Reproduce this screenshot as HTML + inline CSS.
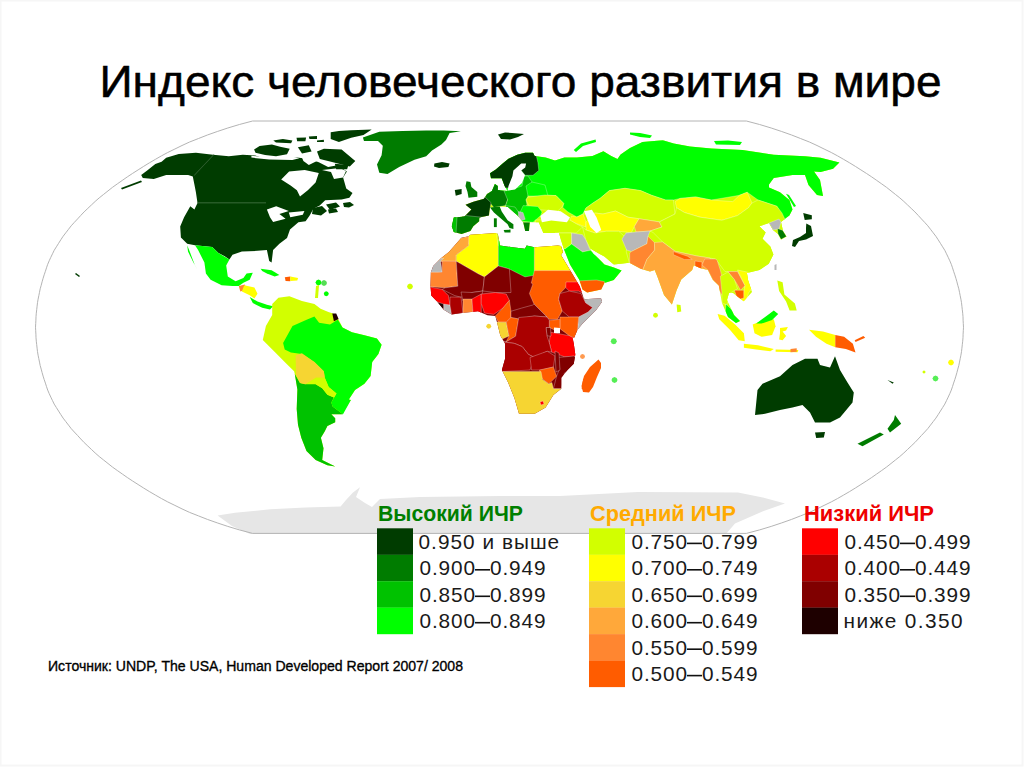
<!DOCTYPE html>
<html><head><meta charset="utf-8"><style>
html,body{margin:0;padding:0;background:#fff;}
body{width:1024px;height:767px;overflow:hidden;position:relative;}
svg{position:absolute;left:0;top:0;}
.title{font-family:"Liberation Sans",sans-serif;font-size:43.5px;fill:#000;stroke:#000;stroke-width:0.5px;}
.lt{font-family:"Liberation Sans",sans-serif;font-size:20.8px;fill:#1a1a1a;}
.lh{font-family:"Liberation Sans",sans-serif;font-size:22px;font-weight:bold;}
.src{font-family:"Liberation Sans",sans-serif;font-size:15.5px;fill:#000;stroke:#000;stroke-width:0.35px;}
</style></head><body>
<svg width="1024" height="767" viewBox="0 0 1024 767">
<rect x="0.5" y="0.5" width="1022" height="765" fill="none" stroke="#f6f6f6" stroke-width="2"/>
<text x="99.5" y="96.6" class="title" textLength="842" lengthAdjust="spacingAndGlyphs">Индекс человеческого развития в мире</text>
<g shape-rendering="auto">
<polygon fill="#003c00" points="141.2,175 147.5,170.3 155.3,164.1 161.6,161.7 166.2,157.8 178.8,153.9 195.9,152.8 213.1,154.7 228.8,156.2 242.8,154.7 255.3,155.5 265.6,159.1 281.2,159.1 296.9,157.5 309.4,159.1 318.8,162.2 328.1,166.9 337.5,165.3 346.9,171.6 343.1,177.5 346.25,188.4 352.5,193 349.4,197.8 341.6,199.4 325.2,200.2 319.7,205.6 313.4,208.75 309.5,215.8 305.6,221.25 298.4,222.3 290,229.6 287,238 279.4,243.8 273.1,250 271.6,262.5 269.2,260.9 266.9,250 257.5,250.8 241.9,251.6 232.5,254.7 229.4,259.4 224.7,256.2 218.4,253.1 212.2,246.9 195,245.3 187.2,243.8 180.9,237.5 180.2,226.6 184.1,217.2 190.3,206.2 194.4,209.4 197.5,203.1 195.9,192.2 194.4,184.4 192.8,176.6 188.1,175 177.2,175 166.2,175 153.8,178.9 142.8,178.1"/>
<polygon fill="#ffffff" points="281.2,179.4 289.1,171.6 304.7,170 318.8,173.1 315.6,182.5 307.8,190.3 300,196.6 296.9,190.3 290.6,185.6"/>
<polygon fill="#ffffff" points="266.9,209.4 276.2,206.2 288.8,210.9 279.4,214.1 285.6,218.8 273.1,221.9 270,217.2"/>
<polygon fill="#ffffff" points="288.8,212.5 304.4,210.9 302.8,214.8 290.3,217.2"/>
<polygon fill="#003c00" points="343,203 350,202 354,205 349,207.5 344,207"/>
<polygon fill="#003c00" points="326,204.5 336,202.5 340,206.5 330,210"/>
<polygon fill="#003c00" points="328,209.5 336,208.5 338,212 329,213.5"/>
<polygon fill="#003c00" points="313,208 322,206 327,211 321,215.5 312,214"/>
<polygon fill="#ffffff" points="322,170 331,172 334,179 343,177.5 346,171 340,168"/>
<polygon fill="#007c00" points="362.9,137.6 379.3,131.7 402.7,131.1 426.2,130.5 443.75,130.5 461,131.2 449.6,132.9 446,140 441.4,144.6 432,150.5 426.2,156.3 414.5,159.8 399.2,166.9 387.5,173.9 379.3,172.7 377,164.5 381.6,155.2 382.8,145.8 378,141 364,141"/>
<polygon fill="#003c00" points="434.4,163.4 442,162 449.6,163.4 448.4,166.9 439,168 434,166.5"/>
<polygon fill="#00ff00" points="195,245.3 212.2,246.9 218.4,253.1 229.4,259.4 226.2,265.6 227.8,276.6 235.6,281.2 243.4,278.1 246.6,273.4 252.8,272.7 249.7,279.7 243.4,282.8 238.8,285.9 232.5,285.9 221.6,285.2 210.6,279.7 205.9,273.4 204.4,262.5 198.1,250"/>
<polygon fill="#00ff00" points="187.2,245.3 190.3,253.1 195,265.6 197.3,269.5 193.4,262.5 188,251.6"/>
<polygon fill="#ff8630" points="238.8,285.9 245,284.4 245.8,289.8 240.3,291.4"/>
<polygon fill="#ffff00" points="244.2,285.2 254.4,287.5 257.5,293.8 254.4,298.4 249.7,295.3 241.9,291.4"/>
<polygon fill="#00ff00" points="249.7,296.9 257.5,301.6 266.9,304.7 273.1,306.2 270,309.4 262.2,307.8 252.8,303.1"/>
<polygon fill="#00ff00" points="260.6,268.8 271.6,270.3 279.4,275 274.7,276.6 266.9,273.4 262.2,271.1"/>
<polygon fill="#ff5c00" points="284.8,277.3 290.3,276.6 290.3,281.2 285.6,280.9"/>
<polygon fill="#ffff00" points="290.3,276.6 298.1,278.1 297.3,280.5 290.3,280.9"/>
<polygon fill="#d2ff00" points="272.2,304.1 278.4,297.8 289.4,296.2 301.9,300.9 314.4,304.1 320.6,308.8 328.4,311.9 333.1,313.4 337.8,318.1 342.5,327.5 351.9,332.2 364.4,335.3 376.9,338.4 381.6,344.7 378.4,354.1 372.2,361.9 370.6,375.9 364.4,383.8 355,390 348.8,399.4 350.9,400 341.7,414.3 331.3,414.3 335.2,418.3 335.2,422.2 327.4,426.1 324.8,431.3 320.9,437.8 323.5,448.3 322.2,460 335.2,466.5 327.4,465.2 315.7,460 306.5,450.9 301.3,437.8 298,424.8 296.7,409.1 297.4,389.6 294.8,373.9 294.1,371.2 286.2,363.4 275.3,352.5 262.8,340 265.9,325.9 272.2,315"/>
<polygon fill="#00c200" points="294.8,373.9 300,383 305.2,384.3 315.7,384.3 322.2,388.3 327.4,394.8 333.9,397.4 331.3,402.6 332.6,406.5 343,414.3 341.7,414.3 331.3,414.3 335.2,418.3 335.2,422.2 327.4,426.1 324.8,431.3 320.9,437.8 323.5,448.3 322.2,460 335.2,466.5 327.4,465.2 315.7,460 306.5,450.9 301.3,437.8 298,424.8 296.7,409.1 297.4,389.6"/>
<polygon fill="#00ff00" points="283.1,343.1 292.5,325.9 306.6,319.7 314.4,316.6 319.1,322.8 330,324.4 337.8,319.7 342.5,327.5 351.9,332.2 364.4,335.3 376.9,338.4 381.6,344.7 378.4,354.1 372.2,361.9 370.6,375.9 364.4,383.8 355,390 348.8,399.4 350.9,400 343,414.3 332.6,406.5 331.3,402.6 336.5,393.5 328.7,387 324.8,377.8 323.8,371.2 314.4,361.9 301.9,354.1 290.9,352.5 284.7,349.4"/>
<polygon fill="#f6d532" points="295.6,355.6 301.9,353.3 314.4,361.9 323.8,371.2 324.8,377.8 315.7,377.8 305.2,384.3 300,383 296.1,375.2"/>
<polygon fill="#d2ff00" points="315.7,377.8 324.8,377.8 328.7,387 336.5,393.5 333.9,397.4 327.4,394.8 322.2,388.3 315.7,384.3"/>
<polygon fill="#1e0000" points="332.3,313.4 336.2,313.4 338.6,318.9 333.9,321.2"/>
<polygon fill="#d2ff00" points="491,178.2 490,173.3 495.8,169.4 502.7,163.6 508.5,158.7 517.3,154.8 525.2,152.8 533,152.8 534.7,156 545.6,157.5 555,160.6 564.4,157.5 576.9,157.5 592.5,156 603.4,151.25 611.25,156 617.5,159 620.6,154.4 630,148 642.5,141.9 662.8,140.3 673.75,143.4 690,146.6 711.25,148.4 742.5,150 773.75,154.7 805,156.25 820.6,157.8 839.4,162.5 833.1,168.75 820.6,171.9 814,171.5 820,180 823,196 817,195 808.5,185 805,175 792.5,175 773.75,178 769,184.4 769,187.5 780,192.2 789.4,200 792.5,209.4 789.4,215.6 786,218 781,222 783,231 786.5,236.5 781,239.5 778,234 773,230 769,223 766,224 759.4,226.25 765.6,232.5 762.5,238.75 770.3,246.6 773.4,254.4 768.75,263.75 759.4,270 746.9,273.1 748,280 752,292 743.75,301.25 738,297 733,293 729,293 727,300 734,315 740,321 736,323 728,317 722,303 720,292 718.75,285.6 712.5,279.4 707.8,270 700,268 693.75,265.3 692.2,270 681.25,279.4 676.6,290.3 671.9,304.4 664,295 657.8,277.8 654.7,270 650,271.6 640.6,268.75 629.4,262.8 613.75,264.4 604.4,256.6 590.3,248.75 593.4,253.4 604.4,264.4 613.75,267.5 621.6,270.6 613.75,280 604.4,283.1 601.25,289.4 587.2,292.5 582.5,289.4 579.4,280 570,264.4 563.75,248.75 561,240 559,233 543.4,233 538.75,222.2 530,222.3 529,231 525.2,231 523.2,222.3 518,216 508,207 499.7,206.6 490,207.6 489,215.4 479.2,217.4 479.2,221.3 473.3,226.2 470.4,231 461.6,234 453.8,232 451.8,226.2 453.8,217.4 464.5,216.4 471.4,209.5 465.5,204.7 473.3,201.7 484,198.8 487,193.9 491.9,191 494.9,184 497.8,186 497.8,190 507.6,191 504.6,186 501.7,178.2 495.8,178.2"/>
<clipPath id="c1"><polygon fill="#000" points="491,178.2 490,173.3 495.8,169.4 502.7,163.6 508.5,158.7 517.3,154.8 525.2,152.8 533,152.8 534.7,156 545.6,157.5 555,160.6 564.4,157.5 576.9,157.5 592.5,156 603.4,151.25 611.25,156 617.5,159 620.6,154.4 630,148 642.5,141.9 662.8,140.3 673.75,143.4 690,146.6 711.25,148.4 742.5,150 773.75,154.7 805,156.25 820.6,157.8 839.4,162.5 833.1,168.75 820.6,171.9 814,171.5 820,180 823,196 817,195 808.5,185 805,175 792.5,175 773.75,178 769,184.4 769,187.5 780,192.2 789.4,200 792.5,209.4 789.4,215.6 786,218 781,222 783,231 786.5,236.5 781,239.5 778,234 773,230 769,223 766,224 759.4,226.25 765.6,232.5 762.5,238.75 770.3,246.6 773.4,254.4 768.75,263.75 759.4,270 746.9,273.1 748,280 752,292 743.75,301.25 738,297 733,293 729,293 727,300 734,315 740,321 736,323 728,317 722,303 720,292 718.75,285.6 712.5,279.4 707.8,270 700,268 693.75,265.3 692.2,270 681.25,279.4 676.6,290.3 671.9,304.4 664,295 657.8,277.8 654.7,270 650,271.6 640.6,268.75 629.4,262.8 613.75,264.4 604.4,256.6 590.3,248.75 593.4,253.4 604.4,264.4 613.75,267.5 621.6,270.6 613.75,280 604.4,283.1 601.25,289.4 587.2,292.5 582.5,289.4 579.4,280 570,264.4 563.75,248.75 561,240 559,233 543.4,233 538.75,222.2 530,222.3 529,231 525.2,231 523.2,222.3 518,216 508,207 499.7,206.6 490,207.6 489,215.4 479.2,217.4 479.2,221.3 473.3,226.2 470.4,231 461.6,234 453.8,232 451.8,226.2 453.8,217.4 464.5,216.4 471.4,209.5 465.5,204.7 473.3,201.7 484,198.8 487,193.9 491.9,191 494.9,184 497.8,186 497.8,190 507.6,191 504.6,186 501.7,178.2 495.8,178.2"/></clipPath><g clip-path="url(#c1)">
<polygon fill="#00ff00" points="480,140 860,140 860,230 790,230 776.9,206.25 758.1,200 747.2,192.2 739.4,195.3 711.25,200 695.6,196.9 680,198.4 673.4,200 665.6,200 651.6,195.3 640.6,190.6 625,188.3 609.4,190.6 600,198.4 593,203 586,208 583,214 576.9,217 568,212 562.8,207.5 563.75,203.4 556,195.6 540,195 527.8,195.6 520,192.5 480,192" stroke="#fff" stroke-opacity="0.4" stroke-width="0.7"/>
<polygon fill="#003c00" points="480,178.2 480,150 535,150 537.9,162.6 538.8,170.4 533,175.3 525.2,175.3 521.2,170.4 516,172 512,180 509,188 504.6,188 501.7,186 495.8,180" stroke="#fff" stroke-opacity="0.4" stroke-width="0.7"/>
<polygon fill="#007c00" points="480,196 487,186 496,180 500,190 507,191 507.6,199.8 505.6,205.6 493.9,207.6 489,201.7 484,198.8" stroke="#fff" stroke-opacity="0.4" stroke-width="0.7"/>
<polygon fill="#00c200" points="504,191 510,190 522,186 524,176 528,176 532,182 528,196 526.1,199.7 527,205 521,212 515,214 507,210 505.6,205.6 507.6,199.8" stroke="#fff" stroke-opacity="0.4" stroke-width="0.7"/>
<polygon fill="#00ff00" points="526,186 532,182 545,185 548,196 528,196" stroke="#fff" stroke-opacity="0.4" stroke-width="0.7"/>
<polygon fill="#d2ff00" points="527.8,197.2 545,195 556,195.6 563.75,203.4 562,207 557.5,211.25 540.3,209.7 529.4,206.6 526,200" stroke="#fff" stroke-opacity="0.4" stroke-width="0.7"/>
<polygon fill="#00ff00" points="523.2,205.6 530,206 537.9,206.6 542,212 540.8,215.4 533,222.3 521.2,221.3 519.5,213.5" stroke="#fff" stroke-opacity="0.4" stroke-width="0.7"/>
<polygon fill="#00c200" points="505.6,205.6 515,207 519.5,213.5 518.5,221 513,216 507,210" stroke="#fff" stroke-opacity="0.4" stroke-width="0.7"/>
<polygon fill="#b8b8b8" points="518.3,211.5 523,212.5 525.2,219.3 520,221 518.5,217" stroke="#fff" stroke-opacity="0.4" stroke-width="0.7"/>
<polygon fill="#007c00" points="518.5,219 523.2,222.3 530,222.3 529,235 520,235 516,222" stroke="#fff" stroke-opacity="0.4" stroke-width="0.7"/>
<polygon fill="#003c00" points="460,200 473.3,199 484,196 491,202.7 490,209.5 489,218 479.2,219 473.3,218 462,218" stroke="#fff" stroke-opacity="0.4" stroke-width="0.7"/>
<polygon fill="#007c00" points="445,214 466,215.5 475,216.5 490,218 480,240 445,240" stroke="#fff" stroke-opacity="0.4" stroke-width="0.7"/>
<polygon fill="#00c200" points="445,214 457,217 456,233 445,236" stroke="#fff" stroke-opacity="0.4" stroke-width="0.7"/>
<polygon fill="#d2ff00" points="535,220 559,219.5 570,220 576.25,223.75 582.5,227 576.25,233 559,233 540,236" stroke="#fff" stroke-opacity="0.4" stroke-width="0.7"/>
<polygon fill="#ffff00" points="571.6,216 576.9,217 583,214 586,222 585.5,227 576.25,223.5 570,220" stroke="#fff" stroke-opacity="0.4" stroke-width="0.7"/>
<polygon fill="#d2ff00" points="583,214 586,208 593,203 600,198.4 609.4,190.6 625,188.3 640.6,190.6 651.6,195.3 665.6,200 673.4,200 675,214 659.4,221.9 639,218.75 628,217.2 615.6,211 603,214 595,213" stroke="#fff" stroke-opacity="0.4" stroke-width="0.7"/>
<polygon fill="#ffff00" points="586,222 595,213 603,214 615.6,211 628,217.2 639,218.75 634.4,226.6 631.25,232.8 618.75,231.25 606.25,231.25 595,233 586,230" stroke="#fff" stroke-opacity="0.4" stroke-width="0.7"/>
<polygon fill="#ffa83a" points="639,218.75 659.4,221.9 662,227 650,231 636,232 634.4,226.6" stroke="#fff" stroke-opacity="0.4" stroke-width="0.7"/>
<polygon fill="#ffff00" points="675,201.6 680,198.4 695.6,196.9 711.25,200 732.8,201.6 739.4,195.3 747.2,192.2 752,203 748.4,207.8 737.5,215.6 721.9,220.3 700,217.2 684.4,212.5 676.6,207.8" stroke="#fff" stroke-opacity="0.4" stroke-width="0.7"/>
<polygon fill="#d2ff00" points="659.4,221.9 675,214 676.6,207.8 684.4,212.5 700,217.2 721.9,220.3 737.5,215.6 748.4,207.8 752,203 758.1,200 776.9,206.25 782,213 790,230 790,290 746,290 737.5,271.6 725,271.6 715.6,259 696.9,256 675,251.25 662.5,241.9 653.1,232.5 650,231 662,227" stroke="#fff" stroke-opacity="0.4" stroke-width="0.7"/>
<polygon fill="#b8b8b8" points="769,223 779,219 781,222 779,229 773,230" stroke="#fff" stroke-opacity="0.4" stroke-width="0.7"/>
<polygon fill="#007c00" points="777.5,228.5 783,230.5 786.5,236.5 781,239.5 778,234" stroke="#fff" stroke-opacity="0.4" stroke-width="0.7"/>
<polygon fill="#d2ff00" points="582.5,227 586,230 595,233 606.25,231.25 618.75,231.25 627.8,239.4 626.25,251.9 629.4,262.8 613.75,268 600,262 590.3,248.75 585.6,239.4" stroke="#fff" stroke-opacity="0.4" stroke-width="0.7"/>
<polygon fill="#d2ff00" points="555,233 571.6,233 571.6,244 565,249 558,248" stroke="#fff" stroke-opacity="0.4" stroke-width="0.7"/>
<polygon fill="#b8b8b8" points="571.6,233 582.5,234.7 585.6,239.4 590.3,250.3 582.5,251.9 571.6,244" stroke="#fff" stroke-opacity="0.4" stroke-width="0.7"/>
<polygon fill="#00ff00" points="558,248 565,249 571.6,244 582.5,251.9 590.3,250.3 600,258 613.75,265 625,270 613.75,283 604.4,283.1 590,283 581,283 575,282 565,262" stroke="#fff" stroke-opacity="0.4" stroke-width="0.7"/>
<polygon fill="#ff5c00" points="576,281 596.6,280 604.4,281.6 606,292 587.2,295 578,292" stroke="#fff" stroke-opacity="0.4" stroke-width="0.7"/>
<polygon fill="#b8b8b8" points="621.9,239 626,233 636,232 650,231 648,236.25 646.9,243.75 631.25,251.6 626.6,250" stroke="#fff" stroke-opacity="0.4" stroke-width="0.7"/>
<polygon fill="#ff8630" points="648,236.25 654.4,242.5 654.7,250 646.9,259.4 642,272 625,272 629.7,262.5 629.7,253 631.25,251.6 646.9,243.75" stroke="#fff" stroke-opacity="0.4" stroke-width="0.7"/>
<polygon fill="#ffa83a" points="654.4,242.5 662.5,241.9 675,251.25 696.9,256 710,258 712,268 700,272 690,275 675,310 645,300 642,272 646.9,259.4 654.7,250" stroke="#fff" stroke-opacity="0.4" stroke-width="0.7"/>
<polygon fill="#ff5c00" points="673.4,251.6 687.5,256.25 692.2,259.4 684.4,259.4 673.4,254.7" stroke="#fff" stroke-opacity="0.4" stroke-width="0.7"/>
<polygon fill="#ff5c00" points="695,261 702,262 701.6,270 695,272" stroke="#fff" stroke-opacity="0.4" stroke-width="0.7"/>
<polygon fill="#ff8630" points="704.7,259 715.6,259 717.2,260.6 720.3,270 723.4,282.5 725,300 718.75,290 712.5,279.4 707.8,270 702,265" stroke="#fff" stroke-opacity="0.4" stroke-width="0.7"/>
<polygon fill="#d2ff00" points="720.3,276.25 728,272 734.4,279.4 737.5,288.75 729.7,293.4 727,305 722,303 721.9,291.9" stroke="#fff" stroke-opacity="0.4" stroke-width="0.7"/>
<polygon fill="#ff8630" points="728,271.6 737.5,271.6 745,285.6 740.6,290.3 734.4,279.4" stroke="#fff" stroke-opacity="0.4" stroke-width="0.7"/>
<polygon fill="#ffff00" points="737.5,270 746.9,272 760,275 748.4,293.4 745,305 740,302 743.75,292 745,285.6" stroke="#fff" stroke-opacity="0.4" stroke-width="0.7"/>
<polygon fill="#ff5c00" points="734.4,290.3 743.75,290.3 743.75,298 737.5,299.7" stroke="#fff" stroke-opacity="0.4" stroke-width="0.7"/>
<polygon fill="#00ff00" points="726,304 731,309 740,320 742,325 735,325 725,315" stroke="#fff" stroke-opacity="0.4" stroke-width="0.7"/>
</g>
<polygon fill="#ffffff" points="508.5,186 512.4,176.3 513.4,170.4 521.2,163.6 526.1,163.6 525.2,167.5 521.2,170.4 525,175.3 522,183 515,189.5 507.6,190.5"/>
<polygon fill="#ffffff" points="540.3,216 548,209.7 560.6,211.25 570,217.5 566.9,222.2 551.25,220.6 541.9,222.2"/>
<polygon fill="#ffffff" points="584,211.25 591.9,209.7 596.6,217.5 601.25,230 596.6,233 590.3,226.9 587.2,219"/>
<polygon fill="#ffffff" points="590.3,248.75 600,255 607.5,262.8 613.75,264.4 612,266 604.4,263 593.4,253.4"/>
<polygon fill="#ffffff" points="557.5,252 560,250 579.4,287 577,289"/>
<polygon fill="#007c00" points="490,207.6 499.7,206.6 501.7,211.5 507.6,220.3 513.4,224.2 513.4,229.1 509.5,228.1 507.6,224.2 499.7,217.4 493.9,212.5"/>
<polygon fill="#007c00" points="503.7,230 510.5,229.6 510.5,232.5 504.6,232.5"/>
<polygon fill="#007c00" points="493.9,218.3 496.8,218.3 496.8,227.1 493.9,227.1"/>
<polygon fill="#007c00" points="466.5,181.2 470.4,182.1 471.4,187 477.3,192 477.3,196.8 468.5,197.8 467.5,192 465.5,186"/>
<polygon fill="#003c00" points="454.8,190 461.6,189 461.6,193.9 455.75,195.8"/>
<polygon fill="#00ff00" points="573.75,150 581,143.5 595.6,139.5 596,142 583,146 576,152"/>
<polygon fill="#00ff00" points="630,132.5 640,133 652,135.6 650,138 640,137 630,134.5"/>
<polygon fill="#00ff00" points="786,193.75 789,195 796,206 794,207"/>
<polygon fill="#003c00" points="803.2,213 811.8,215.3 811.8,219.2 804.7,220"/>
<polygon fill="#003c00" points="806.3,223.5 811,226 813,236 806,239.5 799,241 795,247 792,246 793,240 800,237 806,233 806,228"/>
<polygon fill="#d2ff00" points="676.6,304.4 680.5,305 681.25,311.4 677.3,312.2"/>
<polygon fill="#800000" points="461.4,237.8 468.75,236.25 470.3,234.7 496.9,233.1 498,235 500,245.6 512.5,247.2 525,248.75 526.6,245.6 534.4,247.2 557.8,245.6 561,246 563,252 561,255 570.3,270.6 579.7,286.25 583.3,297 584.5,299.3 601,298.2 602.1,301.7 596.2,309.9 589.2,316.9 582.2,324 577.5,329.8 574,338 572.2,336 573.75,343.4 575.3,354.4 573.75,363.75 567.5,370 561.25,377.8 561.25,388.75 553.4,395 545.6,407.5 534.7,413.75 519,413.75 514.4,398 508.1,382.5 501.9,370 505,359 505,343.4 500.3,335.6 497.2,323 495.3,316 487.5,315.2 478,311.25 464,312.8 451.6,314.4 443.75,309.7 437.5,301.9 431.25,295.6 430.5,286.25 430.9,272.3 433.2,266 441,258.2 448.9,251.9"/>
<clipPath id="c2"><polygon fill="#000" points="461.4,237.8 468.75,236.25 470.3,234.7 496.9,233.1 498,235 500,245.6 512.5,247.2 525,248.75 526.6,245.6 534.4,247.2 557.8,245.6 561,246 563,252 561,255 570.3,270.6 579.7,286.25 583.3,297 584.5,299.3 601,298.2 602.1,301.7 596.2,309.9 589.2,316.9 582.2,324 577.5,329.8 574,338 572.2,336 573.75,343.4 575.3,354.4 573.75,363.75 567.5,370 561.25,377.8 561.25,388.75 553.4,395 545.6,407.5 534.7,413.75 519,413.75 514.4,398 508.1,382.5 501.9,370 505,359 505,343.4 500.3,335.6 497.2,323 495.3,316 487.5,315.2 478,311.25 464,312.8 451.6,314.4 443.75,309.7 437.5,301.9 431.25,295.6 430.5,286.25 430.9,272.3 433.2,266 441,258.2 448.9,251.9"/></clipPath><g clip-path="url(#c2)">
<polygon fill="#ffa83a" points="440,240 461.4,237.8 470,236 468.75,245.6 456.25,255 456.25,261.5 442,261.5 430,262" stroke="#fff" stroke-opacity="0.4" stroke-width="0.7"/>
<polygon fill="#b8b8b8" points="425,262 443.75,258 440.6,261.25 442.2,272.2 425,275" stroke="#fff" stroke-opacity="0.4" stroke-width="0.7"/>
<polygon fill="#ff8630" points="425,272.2 442.2,272.2 442.2,261 456.25,261.25 457.8,286.25 445.3,287.8 425,286.25" stroke="#fff" stroke-opacity="0.4" stroke-width="0.7"/>
<polygon fill="#ffff00" points="468.75,236 470,230 497,230 498.4,245.6 498.4,266 484.4,276.9 478,273.75 456.25,261.25 456.25,255 468.75,245.6" stroke="#fff" stroke-opacity="0.4" stroke-width="0.7"/>
<polygon fill="#d2ff00" points="496,230 502,230 501,246 498.4,246" stroke="#fff" stroke-opacity="0.4" stroke-width="0.7"/>
<polygon fill="#00ff00" points="498.4,240 534.4,240 534.4,275.3 525,276.9 509.4,269 498.4,266" stroke="#fff" stroke-opacity="0.4" stroke-width="0.7"/>
<polygon fill="#ffff00" points="534.4,240 570,240 575,271 534.4,271" stroke="#fff" stroke-opacity="0.4" stroke-width="0.7"/>
<polygon fill="#ff5c00" points="534.4,270.6 575,270.6 580,283 566.9,283 565.7,287.6 559.9,293.5 558.7,299.3 562.2,311 557.5,319.3 549.3,319.3 547,317 534,304 529.4,293.5 532.9,284 531.25,283.1" stroke="#fff" stroke-opacity="0.4" stroke-width="0.7"/>
<polygon fill="#ff0000" points="566,282 579,282 586,295 578.6,291.1 569.3,291.1 565.7,287.6" stroke="#fff" stroke-opacity="0.4" stroke-width="0.7"/>
<polygon fill="#aa0000" points="559.9,293.5 569.3,291.1 581,293.5 583.3,298.2 585.7,302.8 592.7,307.5 588,312.2 578.7,317 569.3,317 562.2,311 558.7,299.3" stroke="#fff" stroke-opacity="0.4" stroke-width="0.7"/>
<polygon fill="#b8b8b8" points="583.3,297 610,295 600,320 578,335 577.5,329.8 578.7,317 588,312.2 592.7,307.5 585.7,302.8" stroke="#fff" stroke-opacity="0.4" stroke-width="0.7"/>
<polygon fill="#ff5c00" points="559.9,317 578.7,317 577.5,329.8 580,335 574,340 569.3,335.7 559.9,328.7" stroke="#fff" stroke-opacity="0.4" stroke-width="0.7"/>
<polygon fill="#ff5c00" points="549.3,320.4 559.9,319.3 559.9,328.7 554,329.8 549.3,327.5" stroke="#fff" stroke-opacity="0.4" stroke-width="0.7"/>
<polygon fill="#ff0000" points="550.5,332.2 569.3,335.7 574,338 580,345 580,356 564.6,356.8 551.7,352.1 549.3,342.7" stroke="#fff" stroke-opacity="0.4" stroke-width="0.7"/>
<polygon fill="#800000" points="546,327.5 550.5,327.5 551,336 547,336" stroke="#fff" stroke-opacity="0.4" stroke-width="0.7"/>
<polygon fill="#800000" points="456.25,261.25 478,273.75 484.4,276.9 482.8,291 471.9,292.5 461,297.2 454.7,295.6 442.2,289.4 445.3,287.8 457.8,286.25" stroke="#fff" stroke-opacity="0.4" stroke-width="0.7"/>
<polygon fill="#800000" points="484.4,276.9 498.4,266 509.4,269 511,292.5 495.3,292.5 482.8,291" stroke="#fff" stroke-opacity="0.4" stroke-width="0.7"/>
<polygon fill="#ff0000" points="425,286 442.2,289.4 448.4,295.6 450,305 443.75,309.7 437.5,301.9 425,296" stroke="#fff" stroke-opacity="0.4" stroke-width="0.7"/>
<polygon fill="#1e0000" points="437,302 443.75,304 443.75,309 439,307" stroke="#fff" stroke-opacity="0.4" stroke-width="0.7"/>
<polygon fill="#b8b8b8" points="443.75,304 450,305 452,315 444,311" stroke="#fff" stroke-opacity="0.4" stroke-width="0.7"/>
<polygon fill="#aa0000" points="450,297 461,297.2 463,313 451.6,315 450,305" stroke="#fff" stroke-opacity="0.4" stroke-width="0.7"/>
<polygon fill="#800000" points="461,292 471.9,292.5 482.8,291 481,299 472,301 463,301" stroke="#fff" stroke-opacity="0.4" stroke-width="0.7"/>
<polygon fill="#ff8630" points="463,299 472,299 473,313 463,313" stroke="#fff" stroke-opacity="0.4" stroke-width="0.7"/>
<polygon fill="#ff0000" points="472,299 481.25,294 481.25,313 473,313" stroke="#fff" stroke-opacity="0.4" stroke-width="0.7"/>
<polygon fill="#ff0000" points="481.25,294 495.3,292.5 506.25,294 509.4,300.3 503,308 493.75,314.4 484.4,313 481.25,303.4" stroke="#fff" stroke-opacity="0.4" stroke-width="0.7"/>
<polygon fill="#ff5c00" points="509.4,300.3 511,311.25 511,317.5 506.25,322.2 498.4,322.2 495.3,316 503,308" stroke="#fff" stroke-opacity="0.4" stroke-width="0.7"/>
<polygon fill="#800000" points="511,311.25 521.9,308 532.8,305 534,304 547,317 534.4,316 518.75,319 511,317.5" stroke="#fff" stroke-opacity="0.4" stroke-width="0.7"/>
<polygon fill="#f6d532" points="490,322 506.25,322.2 509,336 500,340 490,330" stroke="#fff" stroke-opacity="0.4" stroke-width="0.7"/>
<polygon fill="#ff5c00" points="506.25,322.2 511,317.5 518.75,319 515.6,336.25 506,342 509,336" stroke="#fff" stroke-opacity="0.4" stroke-width="0.7"/>
<polygon fill="#aa0000" points="518.75,317.5 534.4,316 547,317 549.3,320.4 549.3,327.5 546,327.5 547,336 549.3,342.7 551.7,352.1 547.2,351.25 534.7,357.5 528.4,354.4 522.2,346.6 514.4,343.4 503.4,341.9 506,342 515.6,336.25" stroke="#fff" stroke-opacity="0.4" stroke-width="0.7"/>
<polygon fill="#aa0000" points="495,340 503.4,341.9 514.4,343.4 522.2,346.6 528.4,354.4 534.7,357.5 530,370 495,372" stroke="#fff" stroke-opacity="0.4" stroke-width="0.7"/>
<polygon fill="#aa0000" points="530,357.5 547.2,351.25 555,356 553.4,367 541,370 531.6,370" stroke="#fff" stroke-opacity="0.4" stroke-width="0.7"/>
<polygon fill="#800000" points="558,357.5 573.75,356 580,360 575.3,367 564.4,373 561.25,388.75 553.4,388.75 556.6,376.25 559.7,368.4" stroke="#fff" stroke-opacity="0.4" stroke-width="0.7"/>
<polygon fill="#800000" points="555,351 559,353 560,370 556,372" stroke="#fff" stroke-opacity="0.4" stroke-width="0.7"/>
<polygon fill="#ff5c00" points="539.4,370 553.4,367 556.6,376.25 548.75,384 541,377.8" stroke="#fff" stroke-opacity="0.4" stroke-width="0.7"/>
<polygon fill="#f6d532" points="495,371.6 541,371.6 542.5,379.4 548.75,384 551.9,382.5 553.4,388.75 561.25,388.75 565,392 545.6,420 495,420" stroke="#fff" stroke-opacity="0.4" stroke-width="0.7"/>
<polygon fill="#ff0000" points="540,402 543,401 544,404 541,405" stroke="#fff" stroke-opacity="0.4" stroke-width="0.7"/>
</g>
<polygon fill="#ffffff" points="554,327.5 560,328 560,333.3 554,333"/>
<polygon fill="#ff5c00" points="598.75,360.6 600.3,366.9 592.5,382.5 587.8,391.9 581.6,388.75 583.1,379.4 589.4,370"/>
<polygon fill="#ff5c00" points="598.5,359.5 601,363 601,368 597,377 593,387 589,392.5 583,392 581.5,386 584,376 590,367"/>
<polygon fill="#ffff00" points="717.6,313.9 724.6,315.7 735.1,324.5 743.9,333.3 744.8,341.2 738.7,340.3 729.9,329.8 719.3,319.2"/>
<polygon fill="#ffff00" points="752.7,324.5 761.5,321 773.8,319.2 775.6,326.2 772.1,335 761.5,336.8 754.5,333.3"/>
<polygon fill="#00ff00" points="756.2,323.6 766.8,315.7 773.8,310.4 778.2,313.9 772.1,320.1 761.5,323.6"/>
<polygon fill="#ffff00" points="743.9,343.8 758,345.2 773.8,349.1 770.3,351.2 756.2,349.4 743.9,347.7"/>
<polygon fill="#ffff00" points="775.6,349.4 798.4,350 797.5,352.2 775.6,351.7"/>
<polygon fill="#ffff00" points="780,328 787.9,327.1 786.1,330.6 782.6,331.5 786.1,335.9 782.6,340.3 779.1,339.4 780,333.3"/>
<polygon fill="#d2ff00" points="777.3,280.5 782.6,282.3 784.4,294.6 794.9,303.4 796.7,310.4 789.6,310.4 786.1,301.6 779.1,291.1"/>
<polygon fill="#ffff00" points="809,329.8 823,331.5 835.3,335 835.3,347.3 826.5,343.8 816,336.8"/>
<polygon fill="#ff5c00" points="835.3,335 844.1,336.8 852.9,343.8 855.5,352.6 845.9,349.1 835.3,347.3"/>
<polygon fill="#ff5c00" points="854.7,340.3 863.4,335.9 865.2,337.7 855.5,342.1"/>
<polygon fill="#ff8630" points="790.5,349.1 796.7,348.2 796.7,351.7 790.5,352.2"/>
<polygon fill="#b8b8b8" points="774.5,265 776.5,264 776.5,270 774.5,270"/>
<polygon fill="#003c00" points="755,415 757.5,390 762.5,383.8 780,376.2 792.5,365 805,358.8 817.5,358.8 820,365 830,367.5 835,356.2 840,370 847.5,382.5 853.8,392.5 852.5,402.5 840,417.5 830,422.5 815,422.5 810,412.5 802.5,405 792.5,407.5 780,410 765,413.8"/>
<polygon fill="#003c00" points="815,432.5 825,432 823.8,437.5 816.2,438"/>
<polygon fill="#007c00" points="857.5,443.8 880,432.5 883.8,434.5 862.5,446.2"/>
<polygon fill="#007c00" points="887.5,428.8 893.8,420 895,415 901.2,423.8 890,432.5"/>
<polygon fill="#003c00" points="887.5,380 893.8,382.5 892.5,383.8"/>
<polygon fill="#003c00" points="254.1,149.4 259.6,146 271.9,144.6 280.1,146.7 289.7,148.7 287,154.2 276,156.2 265.1,154.9 255.5,152.8"/>
<polygon fill="#003c00" points="273.3,140.5 282.9,139.1 292.4,140.5 291.1,143.2 276,142.6"/>
<polygon fill="#003c00" points="296.5,137.8 306.1,137.5 305.4,141.2 297.2,141.2"/>
<polygon fill="#003c00" points="308.8,136.4 317,136.1 317,139.1 309.5,139.1"/>
<polygon fill="#003c00" points="317,140.5 323.9,139.8 323.9,142.1 317,142.1"/>
<polygon fill="#003c00" points="330.7,132.3 338.9,130.9 351.2,130.3 371.7,129.6 363.5,135 351.2,137.8 338.9,141.9 330.7,139.1"/>
<polygon fill="#003c00" points="297.9,147.3 308.8,145.3 311.6,151.4 302,153.5"/>
<polygon fill="#003c00" points="317,151.4 323.9,148.7 341.6,149.4 355.3,161 349.8,166.5 338.9,163.8 328,161 319.8,159"/>
<polygon fill="#003c00" points="334.8,163.8 348.5,165.1 347.1,169.2 336.2,169.2"/>
<polygon fill="#ffffff" points="251.4,155.8 269.2,157.6 289.7,156.2 299.3,158.3 292.4,159.9 269.2,159.6 251.4,157.6"/>
<polygon fill="#ffffff" points="300.6,154.2 314.3,152.8 317,161 308.8,165.1 303.4,161"/>
<polygon fill="#d2ff00" points="413,286.5 412.1,288.6 410,289.5 407.9,288.6 407,286.5 407.9,284.4 410,283.5 412.1,284.4"/>
<polygon fill="#f6d532" points="491.2,326.2 490.5,328 488.8,328.8 487,328 486.2,326.2 487,324.5 488.8,323.8 490.5,324.5"/>
<polygon fill="#55ee55" points="616.8,341.2 615.9,343.4 613.8,344.2 611.6,343.4 610.8,341.2 611.6,339.1 613.8,338.2 615.9,339.1"/>
<polygon fill="#ff9a50" points="585,356.5 584.3,358.3 582.5,359 580.7,358.3 580,356.5 580.7,354.7 582.5,354 584.3,354.7"/>
<polygon fill="#55ee55" points="617.5,380 616.6,382.1 614.5,383 612.4,382.1 611.5,380 612.4,377.9 614.5,377 616.6,377.9"/>
<polygon fill="#d2ff00" points="658,315.3 657.3,317.1 655.5,317.8 653.7,317.1 653,315.3 653.7,313.5 655.5,312.8 657.3,313.5"/>
<polygon fill="#00ff00" points="321.5,282.5 320.6,284.6 318.5,285.5 316.4,284.6 315.5,282.5 316.4,280.4 318.5,279.5 320.6,280.4"/>
<polygon fill="#55dd55" points="327,283 326.1,285.1 324,286 321.9,285.1 321,283 321.9,280.9 324,280 326.1,280.9"/>
<polygon fill="#00ff00" points="328.8,293.8 328,295.5 326.2,296.2 324.5,295.5 323.8,293.8 324.5,292 326.2,291.2 328,292"/>
<polygon fill="#ffff00" points="954,362.5 953.1,364.6 951,365.5 948.9,364.6 948,362.5 948.9,360.4 951,359.5 953.1,360.4"/>
<polygon fill="#55ee55" points="938.5,378.5 937.6,380.6 935.5,381.5 933.4,380.6 932.5,378.5 933.4,376.4 935.5,375.5 937.6,376.4"/>
<polygon fill="#d2ff00" points="925.5,372 925.1,373.1 924,373.5 922.9,373.1 922.5,372 922.9,370.9 924,370.5 925.1,370.9"/>
<polygon fill="#d2ff00" points="316,286 319,285 318,298 315,298"/>
<polygon fill="#003c00" points="76,273 80,276 79,277 75,274"/>
<polygon fill="#003c00" points="121,188 141,180.5 142,182 122,189.5"/>
<polygon fill="#e6e6e6" points="217.6,515.4 235.1,512.8 270.3,509.3 305.5,507.5 340.6,506.6 346,500 353,492.6 360,487.3 356,497 365,503 372,507 380,499 420,497 500,496 560,496 638,492 738,492.5 761.6,497.2 785,503.4 763,511.25 735,523.5 726,534 250,534 232,526"/>
<polygon fill="#4d7a4d" points="197,202.4 266,202.4 266,203.3 197,203.3"/>
<polygon fill="#3f6a3f" points="213.5,154.5 214.3,154.5 194.5,175.5 193.7,175.5"/>
<polygon fill="#003c00" points="498,134.5 505,132.5 512,133 524,134 518,137 510,139.5 501,139"/>
<polygon fill="#00ff00" points="714,141 728,140.5 742,142 740,145 716,144.5"/>
</g>
<path d="M746.4,121.0 L759.6,124.5 L771.2,128.0 L781.7,131.5 L791.6,135.0 L800.5,138.5 L809.4,142.0 L817.0,145.5 L824.1,149.0 L831.3,152.5 L837.6,155.9 L843.7,159.4 L849.7,162.9 L855.4,166.4 L860.9,169.9 L866.4,173.4 L871.7,176.9 L876.7,180.4 L881.7,183.9 L886.6,187.4 L891.0,190.9 L895.4,194.4 L899.8,197.9 L903.8,201.4 L907.5,204.9 L911.2,208.4 L914.9,211.9 L918.2,215.4 L921.4,218.9 L924.7,222.4 L927.8,225.8 L930.5,229.3 L933.2,232.8 L935.9,236.3 L938.2,239.8 L940.4,243.3 L942.6,246.8 L944.8,250.3 L946.5,253.8 L948.2,257.3 L949.8,260.8 L951.3,264.3 L952.5,267.8 L953.6,271.3 L954.8,274.8 L955.9,278.3 L956.9,281.8 L957.8,285.3 L958.8,288.8 L959.5,292.3 L960.2,295.7 L960.9,299.2 L961.5,302.7 L961.9,306.2 L962.3,309.7 L962.7,313.2 L963.0,316.7 L963.1,320.2 L963.3,323.7 L963.5,327.2 L963.3,330.7 L963.1,334.2 L963.0,337.7 L962.7,341.2 L962.3,344.7 L961.9,348.2 L961.5,351.7 L960.9,355.2 L960.2,358.7 L959.5,362.1 L958.8,365.6 L957.8,369.1 L956.9,372.6 L955.9,376.1 L954.8,379.6 L953.6,383.1 L952.5,386.6 L951.3,390.1 L949.8,393.6 L948.2,397.1 L946.5,400.6 L944.8,404.1 L942.6,407.6 L940.4,411.1 L938.2,414.6 L935.9,418.1 L933.2,421.6 L930.5,425.1 L927.8,428.6 L924.7,432.0 L921.4,435.5 L918.2,439.0 L914.9,442.5 L911.2,446.0 L907.5,449.5 L903.8,453.0 L899.8,456.5 L895.4,460.0 L891.0,463.5 L886.6,467.0 L881.7,470.5 L876.7,474.0 L871.7,477.5 L866.4,481.0 L860.9,484.5 L855.4,488.0 L849.7,491.5 L843.7,495.0 L837.6,498.5 L831.3,501.9 L824.1,505.4 L817.0,508.9 L809.4,512.4 L800.5,515.9 L791.6,519.4 L781.7,522.9 L771.2,526.4 L759.6,529.9 L746.4,533.4 L252.6,533.4 L239.4,529.9 L227.8,526.4 L217.3,522.9 L207.4,519.4 L198.5,515.9 L189.6,512.4 L182.0,508.9 L174.9,505.4 L167.7,501.9 L161.4,498.5 L155.3,495.0 L149.3,491.5 L143.6,488.0 L138.1,484.5 L132.6,481.0 L127.3,477.5 L122.3,474.0 L117.3,470.5 L112.4,467.0 L108.0,463.5 L103.6,460.0 L99.2,456.5 L95.2,453.0 L91.5,449.5 L87.8,446.0 L84.1,442.5 L80.8,439.0 L77.6,435.5 L74.3,432.0 L71.2,428.6 L68.5,425.1 L65.8,421.6 L63.1,418.1 L60.8,414.6 L58.6,411.1 L56.4,407.6 L54.2,404.1 L52.5,400.6 L50.8,397.1 L49.2,393.6 L47.7,390.1 L46.5,386.6 L45.4,383.1 L44.2,379.6 L43.1,376.1 L42.1,372.6 L41.2,369.1 L40.2,365.6 L39.5,362.1 L38.8,358.7 L38.1,355.2 L37.5,351.7 L37.1,348.2 L36.7,344.7 L36.3,341.2 L36.0,337.7 L35.9,334.2 L35.7,330.7 L35.5,327.2 L35.7,323.7 L35.9,320.2 L36.0,316.7 L36.3,313.2 L36.7,309.7 L37.1,306.2 L37.5,302.7 L38.1,299.2 L38.8,295.7 L39.5,292.3 L40.2,288.8 L41.2,285.3 L42.1,281.8 L43.1,278.3 L44.2,274.8 L45.4,271.3 L46.5,267.8 L47.7,264.3 L49.2,260.8 L50.8,257.3 L52.5,253.8 L54.2,250.3 L56.4,246.8 L58.6,243.3 L60.8,239.8 L63.1,236.3 L65.8,232.8 L68.5,229.3 L71.2,225.8 L74.3,222.4 L77.6,218.9 L80.8,215.4 L84.1,211.9 L87.8,208.4 L91.5,204.9 L95.2,201.4 L99.2,197.9 L103.6,194.4 L108.0,190.9 L112.4,187.4 L117.3,183.9 L122.3,180.4 L127.3,176.9 L132.6,173.4 L138.1,169.9 L143.6,166.4 L149.3,162.9 L155.3,159.4 L161.4,155.9 L167.7,152.5 L174.9,149.0 L182.0,145.5 L189.6,142.0 L198.5,138.5 L207.4,135.0 L217.3,131.5 L227.8,128.0 L239.4,124.5 L252.6,121.0Z" fill="none" stroke="#b4b4b4" stroke-width="1"/>
<rect x="377" y="528.3" width="36" height="26.6" fill="#003c00"/>
<text x="418.5" y="548.8" class="lt" textLength="140.7" lengthAdjust="spacing">0.950 и выше</text>
<rect x="377" y="554.8" width="36" height="26.6" fill="#007c00"/>
<text x="419.5" y="575.2" class="lt" textLength="55.5" lengthAdjust="spacing">0.900</text>
<rect x="475" y="569.0" width="15" height="1.6" fill="#111"/>
<text x="490" y="575.2" class="lt" textLength="55.5" lengthAdjust="spacing">0.949</text>
<rect x="377" y="581.2" width="36" height="26.6" fill="#00c200"/>
<text x="419.5" y="601.7" class="lt" textLength="55.5" lengthAdjust="spacing">0.850</text>
<rect x="475" y="595.5" width="15" height="1.6" fill="#111"/>
<text x="490" y="601.7" class="lt" textLength="55.5" lengthAdjust="spacing">0.899</text>
<rect x="377" y="607.6" width="36" height="26.6" fill="#00ff00"/>
<text x="419.5" y="628.1" class="lt" textLength="55.5" lengthAdjust="spacing">0.800</text>
<rect x="475" y="621.9" width="15" height="1.6" fill="#111"/>
<text x="490" y="628.1" class="lt" textLength="55.5" lengthAdjust="spacing">0.849</text>
<rect x="589" y="528.3" width="36" height="26.6" fill="#d2ff00"/>
<text x="631.5" y="548.8" class="lt" textLength="55.5" lengthAdjust="spacing">0.750</text>
<rect x="687" y="542.6" width="15" height="1.6" fill="#111"/>
<text x="702" y="548.8" class="lt" textLength="55.5" lengthAdjust="spacing">0.799</text>
<rect x="589" y="554.8" width="36" height="26.6" fill="#ffff00"/>
<text x="631.5" y="575.2" class="lt" textLength="55.5" lengthAdjust="spacing">0.700</text>
<rect x="687" y="569.0" width="15" height="1.6" fill="#111"/>
<text x="702" y="575.2" class="lt" textLength="55.5" lengthAdjust="spacing">0.749</text>
<rect x="589" y="581.2" width="36" height="26.6" fill="#f6d532"/>
<text x="631.5" y="601.7" class="lt" textLength="55.5" lengthAdjust="spacing">0.650</text>
<rect x="687" y="595.5" width="15" height="1.6" fill="#111"/>
<text x="702" y="601.7" class="lt" textLength="55.5" lengthAdjust="spacing">0.699</text>
<rect x="589" y="607.6" width="36" height="26.6" fill="#ffa83a"/>
<text x="631.5" y="628.1" class="lt" textLength="55.5" lengthAdjust="spacing">0.600</text>
<rect x="687" y="621.9" width="15" height="1.6" fill="#111"/>
<text x="702" y="628.1" class="lt" textLength="55.5" lengthAdjust="spacing">0.649</text>
<rect x="589" y="634.1" width="36" height="26.6" fill="#ff8630"/>
<text x="631.5" y="654.6" class="lt" textLength="55.5" lengthAdjust="spacing">0.550</text>
<rect x="687" y="648.4" width="15" height="1.6" fill="#111"/>
<text x="702" y="654.6" class="lt" textLength="55.5" lengthAdjust="spacing">0.599</text>
<rect x="589" y="660.5" width="36" height="26.6" fill="#ff5c00"/>
<text x="631.5" y="681.0" class="lt" textLength="55.5" lengthAdjust="spacing">0.500</text>
<rect x="687" y="674.8" width="15" height="1.6" fill="#111"/>
<text x="702" y="681.0" class="lt" textLength="55.5" lengthAdjust="spacing">0.549</text>
<rect x="802" y="528.3" width="36" height="26.6" fill="#ff0000"/>
<text x="844.5" y="548.8" class="lt" textLength="55.5" lengthAdjust="spacing">0.450</text>
<rect x="900" y="542.6" width="15" height="1.6" fill="#111"/>
<text x="915" y="548.8" class="lt" textLength="55.5" lengthAdjust="spacing">0.499</text>
<rect x="802" y="554.8" width="36" height="26.6" fill="#aa0000"/>
<text x="844.5" y="575.2" class="lt" textLength="55.5" lengthAdjust="spacing">0.400</text>
<rect x="900" y="569.0" width="15" height="1.6" fill="#111"/>
<text x="915" y="575.2" class="lt" textLength="55.5" lengthAdjust="spacing">0.449</text>
<rect x="802" y="581.2" width="36" height="26.6" fill="#800000"/>
<text x="844.5" y="601.7" class="lt" textLength="55.5" lengthAdjust="spacing">0.350</text>
<rect x="900" y="595.5" width="15" height="1.6" fill="#111"/>
<text x="915" y="601.7" class="lt" textLength="55.5" lengthAdjust="spacing">0.399</text>
<rect x="802" y="607.6" width="36" height="26.6" fill="#1e0000"/>
<text x="843.5" y="628.1" class="lt" textLength="119" lengthAdjust="spacing">ниже 0.350</text>
<text x="378" y="521.2" class="lh" fill="#007f00" textLength="145" lengthAdjust="spacingAndGlyphs">Высокий ИЧР</text>
<text x="590" y="521.2" class="lh" fill="#ffaa00" textLength="146" lengthAdjust="spacingAndGlyphs">Средний ИЧР</text>
<text x="804" y="521.2" class="lh" fill="#ee0000" textLength="130" lengthAdjust="spacingAndGlyphs">Низкий ИЧР</text>
<text x="48" y="671" class="src" textLength="415" lengthAdjust="spacingAndGlyphs">Источник: UNDP, The USA, Human  Developed Report 2007/ 2008</text>
</svg>
</body></html>
